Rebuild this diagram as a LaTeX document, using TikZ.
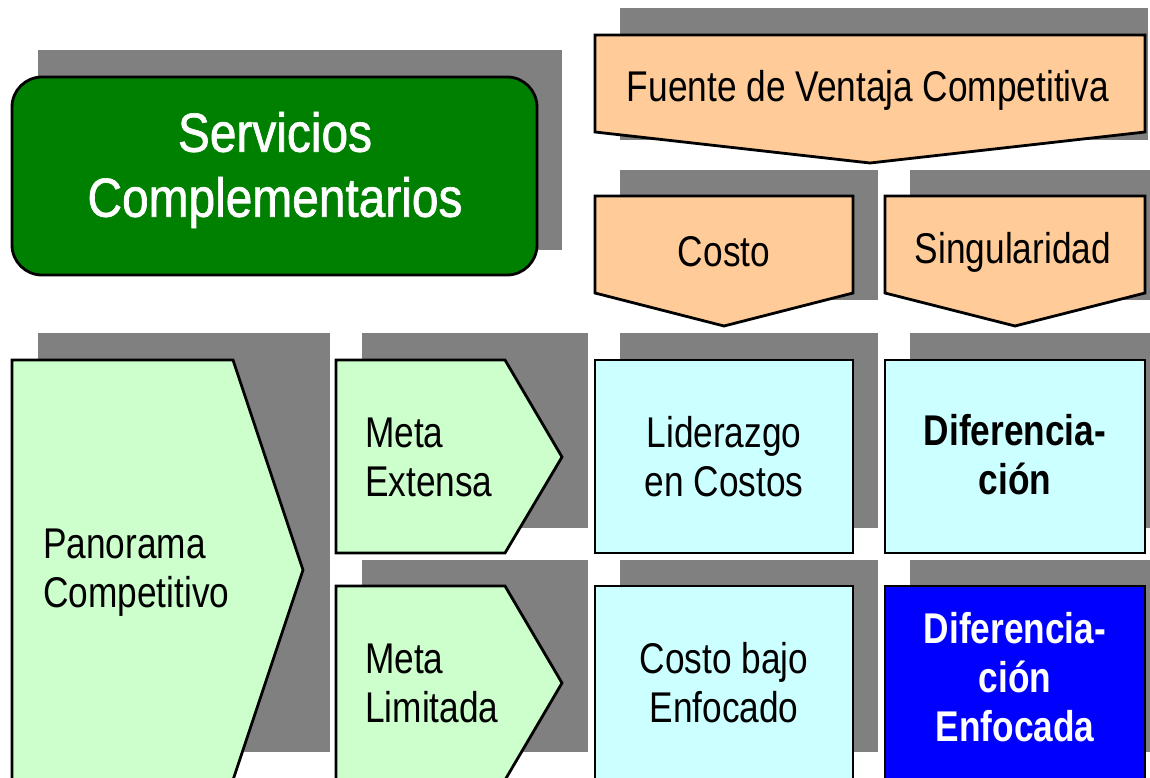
\documentclass[tikz,border=0pt]{standalone}
\usepackage{fontspec}
\setmainfont[FakeStretch=0.82]{Liberation Sans}
\newfontfamily\servfont[FakeStretch=0.87,FakeBold=1.2]{Liberation Sans}
\definecolor{sgreen}{RGB}{0,128,0}
\definecolor{speach}{RGB}{255,204,153}
\definecolor{slgreen}{RGB}{204,255,204}
\definecolor{slcyan}{RGB}{204,255,255}
\definecolor{sblue}{RGB}{0,0,255}
\definecolor{sgray}{RGB}{128,128,128}
\begin{document}
\begin{tikzpicture}[x=1pt,y=-1pt,
  shadowbox/.style={fill=sgray,draw=none},
  outl/.style={draw=black,line width=2.8pt,line join=miter},
  txt/.style={font=\fontsize{43}{49}\selectfont,inner sep=0pt,text=black},
  boldtxt/.style={font=\fontsize{43}{49}\selectfont\bfseries},
  bigtxt/.style={font=\servfont\fontsize{55}{65}\selectfont,inner sep=0pt,text=white,align=center}]
\useasboundingbox (0,0) rectangle (1150,778);
% shadows
\fill[shadowbox] (38,50) rectangle (562,250);
\fill[shadowbox] (620,8) rectangle (1148,140);
\fill[shadowbox] (620,170) rectangle (878,300);
\fill[shadowbox] (910,170) rectangle (1150,300);
\fill[shadowbox] (38,333) rectangle (330,752);
\fill[shadowbox] (362,333) rectangle (588,528);
\fill[shadowbox] (362,560) rectangle (588,752);
\fill[shadowbox] (620,333) rectangle (878,528);
\fill[shadowbox] (910,333) rectangle (1150,528);
\fill[shadowbox] (620,560) rectangle (878,752);
\fill[shadowbox] (910,560) rectangle (1150,752);
% shapes
\draw[outl,fill=sgreen,rounded corners=30pt] (12,77) rectangle (537,275);
\draw[outl,fill=speach] (595,35) -- (1145,35) -- (1145,132) -- (870,163) -- (595,132) -- cycle;
\draw[outl,fill=speach] (595,196) -- (853,196) -- (853,293) -- (724,326) -- (595,293) -- cycle;
\draw[outl,fill=speach] (885,196) -- (1145,196) -- (1145,293) -- (1015,326) -- (885,293) -- cycle;
\draw[outl,fill=slgreen] (12,360) -- (233,360) -- (303,570) -- (233,780) -- (12,780) -- cycle;
\draw[outl,fill=slgreen] (336,360) -- (505,360) -- (562,457) -- (505,553) -- (336,553) -- cycle;
\draw[outl,fill=slgreen] (336,586) -- (505,586) -- (562,683) -- (505,780) -- (336,780) -- cycle;
\draw[outl,fill=slcyan] (595,360) rectangle (853,553);
\draw[outl,fill=slcyan] (885,360) rectangle (1145,553);
\draw[outl,fill=slcyan] (595,586) rectangle (853,782);
\draw[outl,fill=sblue] (885,586) rectangle (1145,782);
% texts
\node[bigtxt] (serv) at (275,170) {Servicios\\Complementarios};
\node[txt] (fuente) at (868,90) {Fuente de Ventaja Competitiva};
\node[txt] (costo) at (724,252) {Costo};
\node[txt] (sing) at (1013,252) {Singularidad};
\node[txt,align=left,anchor=west] (pano) at (43,573) {Panorama\\Competitivo};
\node[txt,align=left,anchor=west] (mext) at (365,457) {Meta\\Extensa};
\node[txt,align=left,anchor=west] (mlim) at (365,683) {Meta\\Limitada};
\node[txt,align=center] (lid) at (724,457) {Liderazgo\\en Costos};
\node[txt,boldtxt,align=center] (dif) at (1015,455) {Diferencia-\\ción};
\node[txt,boldtxt,align=center,text=white] (difenf) at (1015,677) {Diferencia-\\ción\\Enfocada};
\node[txt,align=center] (cbajo) at (724,683) {Costo bajo\\Enfocado};
\end{tikzpicture}
\end{document}
